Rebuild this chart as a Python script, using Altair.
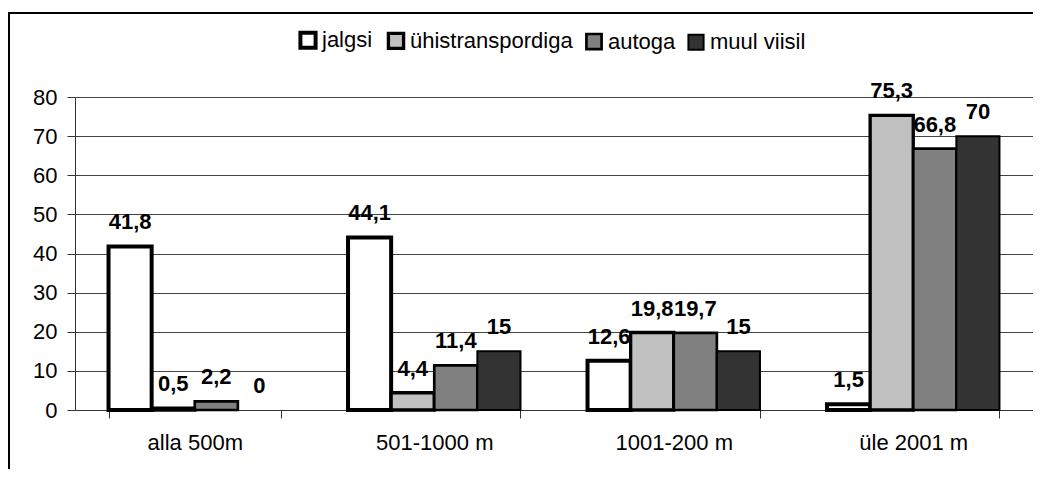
import altair as alt
import pandas as pd

categories = ["alla 500m", "501-1000 m", "1001-200 m", "üle 2001 m"]
modes = ["jalgsi", "ühistranspordiga", "autoga", "muul viisil"]
jalgsi = [41.8, 44.1, 12.6, 1.5]
yhis = [0.5, 4.4, 19.8, 75.3]
autoga = [2.2, 11.4, 19.7, 66.8]
muul = [0, 15, 15, 70]
y_ticks = [0, 10, 20, 30, 40, 50, 60, 70, 80]

series = [jalgsi, yhis, autoga, muul]
rows = []
for m, vals in zip(modes, series):
    for c, v in zip(categories, vals):
        rows.append({"kaugus": c, "viis": m, "v": v,
                     "lbl": f"{v:g}".replace(".", ",")})
df = pd.DataFrame(rows)

fills = ["#FFFFFF", "#C0C0C0", "#808080", "#333333"]
widths = [4, 2, 2, 2]
FONT = "Liberation Sans"

W, H = 958, 313

yaxis = alt.Axis(values=y_ticks, tickSize=8, tickColor="#333",
                 domainColor="#333", grid=True, gridColor="#444", gridWidth=1,
                 labelFontSize=22, labelPadding=10, labelColor="#000",
                 labelFont=FONT)

base = alt.Chart(df).encode(
    x=alt.X("kaugus:N", sort=categories, title=None,
            scale=alt.Scale(paddingInner=0.28, paddingOuter=0.14),
            axis=alt.Axis(labelAngle=0, tickBand="extent", tickSize=8,
                          tickColor="#333", domainColor="#333",
                          labelFontSize=22, labelPadding=14, labelColor="#000",
                          labelFont=FONT)),
    xOffset=alt.XOffset("viis:N", sort=modes,
                        scale=alt.Scale(paddingInner=0, paddingOuter=0)),
    y=alt.Y("v:Q", title=None, scale=alt.Scale(domain=[0, 80], nice=False),
            axis=yaxis),
)

bars = base.mark_bar(stroke="#000").encode(
    fill=alt.Fill("viis:N", sort=modes, title=None,
                  scale=alt.Scale(domain=modes, range=fills),
                  legend=alt.Legend(orient="none", legendX=222, legendY=-68,
                                    direction="horizontal", symbolType="square",
                                    symbolSize=230, symbolStrokeColor="#000",
                                    labelFontSize=22, labelFont=FONT,
                                    labelOffset=3, columnPadding=8,
                                    labelLimit=0, labelColor="#000")),
    strokeWidth=alt.StrokeWidth("viis:N", sort=modes, title=None,
                                scale=alt.Scale(domain=modes, range=widths)),
).transform_filter(alt.datum.v > 0)

labels = base.mark_text(fontSize=22, fontWeight="bold", baseline="alphabetic",
                        dy=-17, font=FONT, color="#000").encode(
    text="lbl:N",
)

frame = alt.Chart(pd.DataFrame({"a": [0]})).mark_rect(
    fill=None, stroke="#000", strokeWidth=2).encode(
    x=alt.value(-66), x2=alt.value(1200), y=alt.value(-84), y2=alt.value(700))

chart = alt.layer(frame, bars, labels).properties(
    width=W, height=H,
    autosize=alt.AutoSizeParams(type="none"),
    padding={"left": 67, "top": 89, "right": 0, "bottom": 59},
).configure_view(stroke=None)

chart.save("out.html", embed_options={"renderer": "svg", "actions": False})
